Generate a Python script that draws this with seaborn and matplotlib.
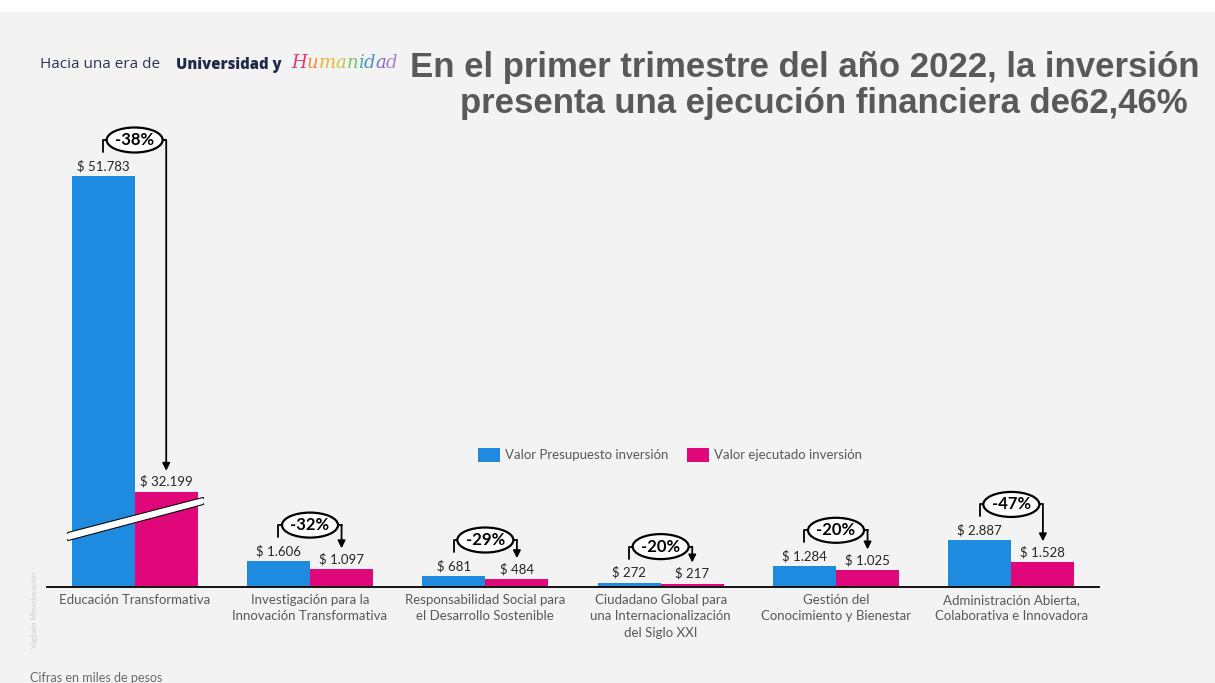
import numpy as np
import pandas as pd
import matplotlib.pyplot as plt
import seaborn as sns
from matplotlib.patches import Ellipse, Polygon, Rectangle

categorias = [
    "Educación Transformativa",
    "Investigación para la\nInnovación Transformativa",
    "Responsabilidad Social para\nel Desarrollo Sostenible",
    "Ciudadano Global para\nuna Internacionalización\ndel Siglo XXI",
    "Gestión del\nConocimiento y Bienestar",
    "Administración Abierta,\nColaborativa e Innovadora",
]
series = ["Valor Presupuesto inversión", "Valor ejecutado inversión"]
presupuesto = [51783, 1606, 681, 272, 1284, 2887]
ejecutado = [32199, 1097, 484, 217, 1025, 1528]
variacion = ["-38%", "-32%", "-29%", "-20%", "-20%", "-47%"]

AZUL = "#1f8be0"
ROSA = "#df0779"
GRIS = "#595959"
W, H = 1215, 683

df = pd.DataFrame({
    "categoria": categorias * 2,
    "serie": [series[0]] * len(categorias) + [series[1]] * len(categorias),
    "valor": presupuesto + ejecutado,
})

sns.set_theme(style="white")
plt.rcParams["font.family"] = ["Lato", "DejaVu Sans"]

fig = plt.figure(figsize=(W / 100, H / 100), dpi=100, facecolor="#f3f3f3")
fig.add_artist(Rectangle((0, 1 - 12 / H), 1, 12 / H, transform=fig.transFigure,
                         facecolor="white", edgecolor="none"))
ax = fig.add_axes([47 / W, 96 / H, 1052 / W, 411 / H])
ax.set_facecolor("none")

sns.barplot(data=df, x="categoria", y="valor", hue="serie", palette=[AZUL, ROSA],
            saturation=1, width=0.72, errorbar=None, linewidth=0, ax=ax)

# eje cortado: se quita el tramo entre CORTE y CORTE + HUECO
CORTE, HUECO = 3500, 26300


def fwd(y):
    y = np.asarray(y, dtype=float)
    return np.where(y <= CORTE, y, np.maximum(y - HUECO, CORTE))


def inv(t):
    t = np.asarray(t, dtype=float)
    return np.where(t <= CORTE, t, t + HUECO)


ax.set_yscale("function", functions=(fwd, inv))
ax.set_ylim(0, max(presupuesto))
ax.set_xlim(-0.5, len(categorias) - 0.5)
ax.set_yticks([])
ax.set_xlabel("")
ax.set_ylabel("")
sns.despine(ax=ax, left=True)
ax.spines["bottom"].set_color("black")
ax.spines["bottom"].set_linewidth(1.3)
ax.tick_params(axis="x", length=0, pad=5, labelsize=9.5, labelcolor=GRIS)
for lbl in ax.get_xticklabels():
    lbl.set_linespacing(1.45)

sns.move_legend(ax, "center", bbox_to_anchor=((670 - 47) / 1052, (587 - 455) / 411),
                ncol=2, frameon=False, title=None, fontsize=9.5, labelcolor=GRIS,
                handlelength=1.67, handleheight=1.14, handletextpad=0.4,
                columnspacing=1.36)


def disp(x, y, dy=0):
    X, Y = ax.transData.transform((x, y))
    return fig.transFigure.inverted().transform((X, Y + dy))


d = 0.18
for i, (vb, vr, txt) in enumerate(zip(presupuesto, ejecutado, variacion)):
    for x, v in ((i - d, vb), (i + d, vr)):
        ax.annotate(f"$ {v:,}".replace(",", "."), (x, v), xytext=(0, 4),
                    textcoords="offset pixels", ha="center", va="bottom",
                    fontsize=9.5, color="#262626")
    p0 = disp(i - d, vb, 24)
    p1 = disp(i - d, vb, 36)
    p2 = disp(i + d, vb, 36)
    p3 = disp(i + d, vr, 21)
    ax.plot([p0[0], p1[0], p2[0]], [p0[1], p1[1], p2[1]], color="black", lw=1.3,
            transform=fig.transFigure, clip_on=False, zorder=4)
    ax.annotate("", xy=p3, xycoords="figure fraction", xytext=p2,
                textcoords="figure fraction",
                arrowprops=dict(arrowstyle="-|>", color="black", lw=1.3,
                                mutation_scale=11, shrinkA=0, shrinkB=0))
    c = disp(i, vb, 36)
    fig.add_artist(Ellipse(c, 56 / W, 25 / H, transform=fig.transFigure,
                           facecolor="white", edgecolor="black", lw=1.6, zorder=5))
    fig.text(c[0], c[1], txt, ha="center", va="center", fontsize=12,
             fontweight="bold", color="black", zorder=6)

# marca de corte sobre la primera categoría
a1, b1 = disp(-0.38, 0, 54), disp(0.39, 0, 89)
a2, b2 = disp(-0.38, 0, 47), disp(0.39, 0, 83)
fig.add_artist(Polygon([a1, b1, b2, a2], closed=True, transform=fig.transFigure,
                       facecolor="white", edgecolor="none", zorder=3))
for p, q in ((a1, b1), (a2, b2)):
    ax.plot([p[0], q[0]], [p[1], q[1]], color="black", lw=1.5,
            transform=fig.transFigure, clip_on=False, zorder=4)

# encabezado
fig.text(40 / W, 1 - 65 / H, "Hacia una era de", fontsize=11, color="#2b3450",
         family="Open Sans", va="center")
fig.text(176 / W, 1 - 65 / H, "Universidad y", fontsize=10.7, color="#1f2a4a",
         family="Open Sans", fontweight="heavy", va="center")
renderer = fig.canvas.get_renderer()
colores = ["#e8336b", "#f08a3c", "#f2b234", "#c9c640", "#7cc36a", "#45b3a8",
           "#4a8fd6", "#7a6cc9", "#a77fd0"]
x0 = 291
for letra, col in zip("Humanidad", colores):
    t = fig.text(x0 / W, 1 - 63 / H, letra, fontsize=13, color=col,
                 family="DejaVu Serif", style="italic", fontweight="light",
                 va="center")
    x0 += t.get_window_extent(renderer).width

fig.text(410 / W, 1 - 68 / H, "En el primer trimestre del año 2022, la inversión",
         fontsize=25, fontweight="bold", color=GRIS, family="Liberation Sans",
         va="center")
fig.text(460 / W, 1 - 103 / H, "presenta una ejecución financiera de62,46%",
         fontsize=25, fontweight="bold", color=GRIS, family="Liberation Sans",
         va="center")

fig.text(35 / W, 1 - 610 / H, "Vigilada Mineducación", rotation=90, fontsize=5.5,
         color="#cfcfcf", ha="center", va="center")
fig.text(30 / W, 1 - 678 / H, "Cifras en miles de pesos", fontsize=9, color="#6b6b6b",
         va="center")

fig.savefig("out.png", dpi=100, facecolor=fig.get_facecolor())
